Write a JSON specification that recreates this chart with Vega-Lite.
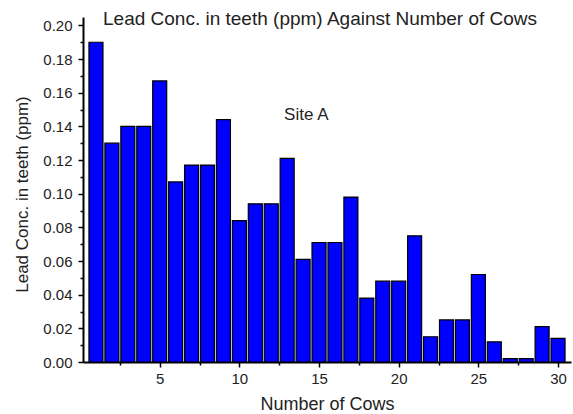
{
  "$schema": "https://vega.github.io/schema/vega-lite/v6.json",
  "width": 488,
  "height": 345,
  "autosize": "none",
  "padding": {"left": 83, "top": 17, "right": 2, "bottom": 52},
  "background": "white",
  "config": {
    "view": {"stroke": null},
    "font": "Liberation Sans",
    "axis": {"grid": false, "domainColor": "#000", "domainWidth": 2, "tickColor": "#000", "tickWidth": 1.5, "labelColor": "#222", "titleColor": "#222", "labelFont": "Liberation Sans", "titleFont": "Liberation Sans", "titleFontWeight": "normal"}
  },
  "title": {"text": "Lead Conc. in teeth (ppm) Against Number of Cows", "anchor": "start", "frame": "group", "dx": 20, "offset": -12, "fontSize": 19, "font": "Liberation Sans", "fontWeight": "normal", "color": "#222"},
  "data": {"values": [
    {"cows": 1, "lead": 0.190}, {"cows": 2, "lead": 0.130}, {"cows": 3, "lead": 0.140}, {"cows": 4, "lead": 0.140}, {"cows": 5, "lead": 0.167},
    {"cows": 6, "lead": 0.107}, {"cows": 7, "lead": 0.117}, {"cows": 8, "lead": 0.117}, {"cows": 9, "lead": 0.144}, {"cows": 10, "lead": 0.084},
    {"cows": 11, "lead": 0.094}, {"cows": 12, "lead": 0.094}, {"cows": 13, "lead": 0.121}, {"cows": 14, "lead": 0.061}, {"cows": 15, "lead": 0.071},
    {"cows": 16, "lead": 0.071}, {"cows": 17, "lead": 0.098}, {"cows": 18, "lead": 0.038}, {"cows": 19, "lead": 0.048}, {"cows": 20, "lead": 0.048},
    {"cows": 21, "lead": 0.075}, {"cows": 22, "lead": 0.015}, {"cows": 23, "lead": 0.025}, {"cows": 24, "lead": 0.025}, {"cows": 25, "lead": 0.052},
    {"cows": 26, "lead": 0.012}, {"cows": 27, "lead": 0.002}, {"cows": 28, "lead": 0.002}, {"cows": 29, "lead": 0.021}, {"cows": 30, "lead": 0.014}
  ]},
  "layer": [
    {
      "mark": {"type": "bar", "size": 14, "fill": "#0000ff", "stroke": "#000", "strokeWidth": 1.2},
      "encoding": {
        "x": {"field": "cows", "type": "quantitative", "scale": {"domain": [0.5, 30.5], "nice": false, "zero": false},
          "axis": {"title": "Number of Cows", "values": [2.5, 5, 7.5, 10, 12.5, 15, 17.5, 20, 22.5, 25, 27.5, 30], "tickCount": 30,
            "labelExpr": "datum.value % 5 == 0 ? datum.label : ''", "labelOverlap": false,
            "tickSize": {"condition": {"test": "datum.value % 5 == 0", "value": 5}, "value": 3},
            "labelFontSize": 15, "labelPadding": 4, "titleFontSize": 18, "titlePadding": 9, "labelFlush": false}},
        "y": {"field": "lead", "type": "quantitative", "scale": {"domain": [0, 0.205], "nice": false},
          "axis": {"title": "Lead Conc. in teeth (ppm)", "values": [0, 0.01, 0.02, 0.03, 0.04, 0.05, 0.06, 0.07, 0.08, 0.09, 0.1, 0.11, 0.12, 0.13, 0.14, 0.15, 0.16, 0.17, 0.18, 0.19, 0.2], "tickCount": 30,
            "labelExpr": "round(datum.value * 100) % 2 == 0 ? format(datum.value, '.2f') : ''", "labelOverlap": false,
            "tickSize": {"condition": {"test": "round(datum.value * 100) % 2 == 0", "value": 5}, "value": 3},
            "labelFontSize": 15, "labelPadding": 6, "titleFontSize": 17, "titlePadding": 11, "titleY": 177}}
      }
    },
    {
      "data": {"values": [{"cows": 14.2, "lead": 0.147, "label": "Site A"}]},
      "mark": {"type": "text", "fontSize": 17, "font": "Liberation Sans", "color": "#222"},
      "encoding": {
        "x": {"field": "cows", "type": "quantitative"},
        "y": {"field": "lead", "type": "quantitative"},
        "text": {"field": "label"}
      }
    }
  ]
}
